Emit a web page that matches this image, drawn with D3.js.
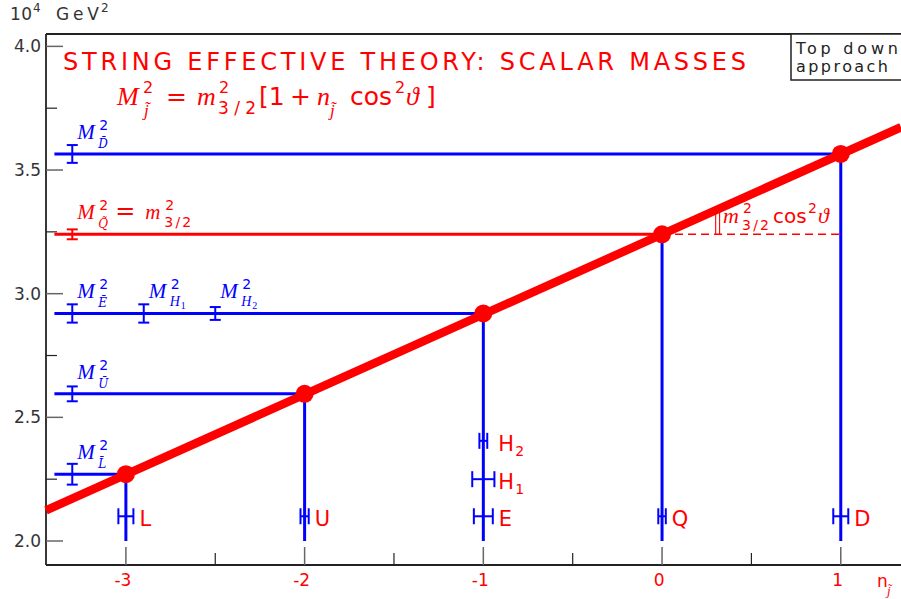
<!DOCTYPE html>
<html>
<head>
<meta charset="utf-8">
<script src="https://cdn.jsdelivr.net/npm/d3@7"></script>
<style>
  body { margin: 0; background: #fff; }
  svg { display: block; }
</style>
</head>
<body>
<svg id="chart" width="901" height="599"></svg>
<script>
// sfermion masses on the straight line M^2 = m^2 (1 + n cos^2)
const sfermions = ["L", "U", "E", "Q", "D"];
const nCharge = [-3, -2, -1, 0, 1];
const massSq = [2.27, 2.595, 2.92, 3.24, 3.565];

// the thick red line (end points)
const lineN = [-3.447, 1.337];
const lineMass = [2.124, 3.673];

// measured masses, error bars on the left
const barMain = ["D", "Q", "E", "H", "H", "U", "L"];
const barSub = ["D\u0304", "Q\u0303", "E\u0304", "1", "2", "U\u0304", "L\u0304"];
const barN = [-3.3, -3.3, -3.3, -2.9, -2.5, -3.3, -3.3];
const barMass = [3.565, 3.24, 2.92, 2.92, 2.92, 2.595, 2.27];
const barErr = [0.036, 0.02, 0.037, 0.037, 0.026, 0.03, 0.042];

// reconstructed n values, error bars at the bottom
const fitMain = ["L", "U", "E", "H", "H", "Q", "D"];
const fitSub = ["", "", "", "1", "2", "", ""];
const fitN = [-3, -2, -1, -1, -1, 0, 1];
const fitLevel = [2.10, 2.10, 2.10, 2.25, 2.405, 2.10, 2.10];
const fitErr = [0.042, 0.023, 0.053, 0.062, 0.022, 0.021, 0.042];

const xMajor = [-3, -2, -1, 0, 1];
const xMinor = [-2.5, -1.5, -0.5, 0.5];
const yMajor = [2.0, 2.5, 3.0, 3.5, 4.0];
const yMinor = [2.25, 2.75, 3.25, 3.75];

const RED = "#ff0000", BLUE = "#0000ff", INK = "#222";
const SANS = "'DejaVu Sans', sans-serif";
const SERIF = "'Liberation Serif', 'DejaVu Serif', serif";
const SERIF2 = "'DejaVu Serif', serif";

var svg = d3.select("#chart");

var x = d3.scaleLinear().domain([-3.447, 1.337]).range([46, 901]);
var y = d3.scaleLinear().domain([1.903, 4.05]).range([565, 34]);
var redLine = d3.scaleLinear().domain(lineN).range(lineMass);

// small text helper
function txt(g, px, py, s, o) {
  o = o || {};
  var t = g.append("text")
    .attr("x", px).attr("y", py)
    .attr("font-family", o.font || SANS)
    .attr("font-style", o.italic ? "italic" : "normal")
    .attr("font-size", o.size || 17)
    .attr("fill", o.color || INK)
    .attr("text-anchor", o.anchor || "start")
    .text(s);
  if (o.len) t.attr("textLength", o.len).attr("lengthAdjust", o.adjust || "spacing");
  return t;
}

// frame
svg.append("line").attr("x1", 46).attr("x2", 901).attr("y1", 34).attr("y2", 34)
  .attr("stroke", INK).attr("stroke-width", 1.8);
svg.append("line").attr("x1", 46).attr("x2", 46).attr("y1", 34).attr("y2", 565)
  .attr("stroke", INK).attr("stroke-width", 1.8);
svg.append("line").attr("x1", 46).attr("x2", 901).attr("y1", 565).attr("y2", 565)
  .attr("stroke", INK).attr("stroke-width", 1.8);

// y ticks
svg.selectAll("yMaj").data(yMajor).enter().append("line")
  .attr("x1", 46).attr("x2", 63)
  .attr("y1", d => y(d)).attr("y2", d => y(d))
  .attr("stroke", "#666").attr("stroke-width", 1.5);
svg.selectAll("yMin").data(yMinor).enter().append("line")
  .attr("x1", 46).attr("x2", 57)
  .attr("y1", d => y(d)).attr("y2", d => y(d))
  .attr("stroke", INK).attr("stroke-width", 1.2);
yMajor.forEach(function(d) {
  txt(svg, 41, y(d) + 6, d.toFixed(1), {anchor: "end", size: 17, color: "#333"});
});

// x ticks
svg.selectAll("xMaj").data(xMajor).enter().append("line")
  .attr("x1", d => x(d)).attr("x2", d => x(d))
  .attr("y1", 565).attr("y2", 547)
  .attr("stroke", "#666").attr("stroke-width", 1.5);
svg.selectAll("xMin").data(xMinor).enter().append("line")
  .attr("x1", d => x(d)).attr("x2", d => x(d))
  .attr("y1", 565).attr("y2", 553)
  .attr("stroke", INK).attr("stroke-width", 1.2);
xMajor.forEach(function(d) {
  txt(svg, x(d) - 3, 586, String(d), {anchor: "middle", size: 17, color: RED});
});

// axis titles
txt(svg, 10, 20, "10", {size: 17, color: "#333", len: 22});
txt(svg, 33, 12, "4", {size: 12, color: "#333"});
txt(svg, 56, 20, "GeV", {size: 17, color: "#333", len: 43});
txt(svg, 101, 12, "2", {size: 12, color: "#333"});
txt(svg, 877, 587, "n", {size: 17, color: RED});
txt(svg, 887, 595, "j\u0303", {font: SERIF, italic: true, size: 13, color: RED});

// title + formula
txt(svg, 63, 70, "STRING EFFECTIVE THEORY: SCALAR MASSES", {size: 24, color: RED, len: 683});
var f = svg.append("g");
txt(f, 117, 105, "M", {font: SERIF, italic: true, size: 26, color: RED});
txt(f, 143, 93, "2", {size: 16, color: RED});
txt(f, 144, 116, "j\u0303", {font: SERIF, italic: true, size: 17, color: RED});
txt(f, 166, 105, "=", {size: 25, color: RED});
txt(f, 197, 105, "m", {font: SERIF, italic: true, size: 26, color: RED});
txt(f, 219, 93, "2", {size: 16, color: RED});
txt(f, 218, 114, "3/2", {size: 17, color: RED, len: 38});
txt(f, 259, 105, "[1", {size: 25, color: RED});
txt(f, 290, 105, "+", {size: 25, color: RED});
txt(f, 317, 105, "n", {font: SERIF, italic: true, size: 26, color: RED});
txt(f, 330, 116, "j\u0303", {font: SERIF, italic: true, size: 17, color: RED});
txt(f, 350, 105, "cos", {size: 25, color: RED});
txt(f, 395, 93, "2", {size: 16, color: RED});
txt(f, 406, 105, "\u03d1", {font: SERIF, italic: true, size: 26, color: RED});
txt(f, 426, 105, "]", {size: 25, color: RED});

// legend box
svg.append("rect").attr("x", 791).attr("y", 34).attr("width", 120).attr("height", 46)
  .attr("fill", "#fff").attr("stroke", INK).attr("stroke-width", 1.5);
txt(svg, 796, 54, "Top down", {size: 16, color: INK, len: 102});
txt(svg, 796, 72, "approach", {size: 16, color: INK, len: 92});

// horizontal mass levels
svg.selectAll("hLines").data(massSq).enter().append("line")
  .attr("x1", x(-3.4))
  .attr("x2", (d, i) => x(nCharge[i]))
  .attr("y1", d => y(d)).attr("y2", d => y(d))
  .attr("stroke", (d, i) => sfermions[i] === "Q" ? RED : BLUE)
  .attr("stroke-width", 3);

// vertical drops to the n axis
svg.selectAll("vLines").data(massSq).enter().append("line")
  .attr("x1", (d, i) => x(nCharge[i])).attr("x2", (d, i) => x(nCharge[i]))
  .attr("y1", d => y(d)).attr("y2", y(2.0))
  .attr("stroke", BLUE).attr("stroke-width", 3);

// dashed reference level from Q to D
var qm = massSq[sfermions.indexOf("Q")];
svg.append("line")
  .attr("x1", x(0)).attr("x2", x(1))
  .attr("y1", y(qm)).attr("y2", y(qm))
  .attr("stroke", RED).attr("stroke-width", 1.5)
  .attr("stroke-dasharray", "8,5");

// double bar marking m^2 cos^2
[0.3, 0.322].forEach(function(n) {
  svg.append("line")
    .attr("x1", x(n)).attr("x2", x(n))
    .attr("y1", y(redLine(n))).attr("y2", y(qm))
    .attr("stroke", RED).attr("stroke-width", 1.1);
});
var a = svg.append("g");
txt(a, 723, 223, "m", {font: SERIF, italic: true, size: 22, color: RED});
txt(a, 743, 213, "2", {size: 14, color: RED});
txt(a, 742, 230, "3/2", {size: 14, color: RED, len: 27});
txt(a, 773, 223, "cos", {size: 20, color: RED});
txt(a, 808, 213, "2", {size: 14, color: RED});
txt(a, 818, 223, "\u03d1", {font: SERIF, italic: true, size: 22, color: RED});

// the thick red line and the points
svg.append("line")
  .attr("x1", x(lineN[0])).attr("x2", x(lineN[1]))
  .attr("y1", y(lineMass[0])).attr("y2", y(lineMass[1]))
  .attr("stroke", RED).attr("stroke-width", 8.5);
svg.selectAll("dots").data(massSq).enter().append("circle")
  .attr("cx", (d, i) => x(nCharge[i]))
  .attr("cy", d => y(d))
  .attr("r", 9)
  .attr("fill", RED);

// left error bars (mass measurements)
barMass.forEach(function(m, i) {
  var col = barMain[i] === "Q" ? RED : BLUE;
  var cx = x(barN[i]), c = 5.5;
  var g = svg.append("g").attr("stroke", col).attr("stroke-width", 2);
  g.append("line").attr("x1", cx).attr("x2", cx).attr("y1", y(m + barErr[i])).attr("y2", y(m - barErr[i]));
  g.append("line").attr("x1", cx - c).attr("x2", cx + c).attr("y1", y(m + barErr[i])).attr("y2", y(m + barErr[i]));
  g.append("line").attr("x1", cx - c).attr("x2", cx + c).attr("y1", y(m - barErr[i])).attr("y2", y(m - barErr[i]));

  // label M^2_X
  var lx = cx + 5, ly = y(m) - 15;
  txt(svg, lx, ly, "M", {font: SERIF, italic: true, size: 21, color: col});
  txt(svg, lx + 22, ly - 9, "2", {size: 14, color: col});
  if (barMain[i] === "H") {
    txt(svg, lx + 21, ly + 8, "H", {font: SERIF, italic: true, size: 14, color: col});
    txt(svg, lx + 32, ly + 11, barSub[i], {font: SERIF, size: 10, color: col});
  } else {
    txt(svg, lx + 21, ly + 9, barSub[i], {font: SERIF2, italic: true, size: 12, color: col});
  }
  if (barMain[i] === "Q") {
    txt(svg, lx + 38, ly, "=", {size: 24, color: col});
    txt(svg, lx + 68, ly, "m", {font: SERIF, italic: true, size: 21, color: col});
    txt(svg, lx + 88, ly - 9, "2", {size: 14, color: col});
    txt(svg, lx + 87, ly + 8, "3/2", {size: 14, color: col, len: 27});
  }
});

// bottom error bars (n reconstruction)
fitLevel.forEach(function(m, i) {
  var cy = y(m), h = 8;
  var x0 = x(fitN[i] - fitErr[i]), x1 = x(fitN[i] + fitErr[i]);
  var g = svg.append("g").attr("stroke", BLUE).attr("stroke-width", 2);
  g.append("line").attr("x1", x0).attr("x2", x1).attr("y1", cy).attr("y2", cy);
  g.append("line").attr("x1", x0).attr("x2", x0).attr("y1", cy - h).attr("y2", cy + h);
  g.append("line").attr("x1", x1).attr("x2", x1).attr("y1", cy - h).attr("y2", cy + h);

  var lx = fitSub[i] ? x(fitN[i]) + 15 : x1 + 6;
  txt(svg, lx, cy + 10, fitMain[i], {size: 21, color: RED});
  if (fitSub[i]) txt(svg, lx + 17, cy + 15, fitSub[i], {size: 14, color: RED});
});
</script>
</body>
</html>
